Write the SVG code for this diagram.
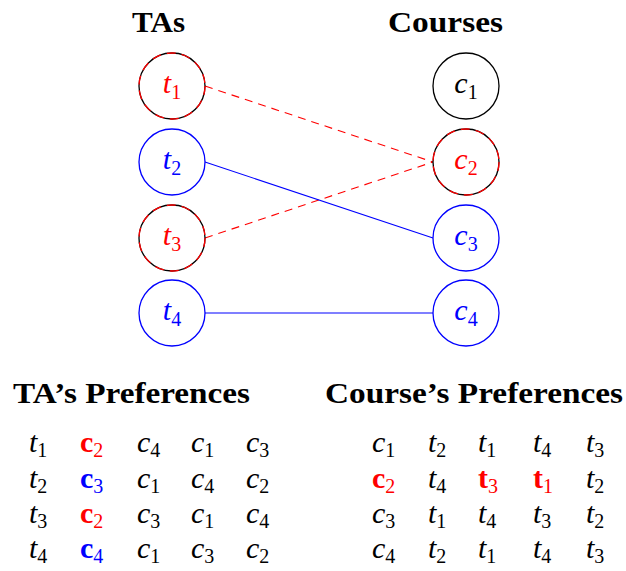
<svg xmlns="http://www.w3.org/2000/svg" width="626" height="571" viewBox="0 0 626 571">
<style>
  .bg { fill: #ffffff; }
  .title { font-family: "Liberation Serif", "DejaVu Serif", serif; font-weight: bold; font-size: 30px; fill: #000; }
  .m { font-family: "Liberation Serif", "DejaVu Serif", serif; font-size: 30px; fill: #000; }
  .m .v { font-style: italic; }
  .m .b { font-weight: bold; font-style: normal; }
  .m .s { font-size: 20px; font-style: normal; }
  .red { fill: #ff0000; }
  .blue { fill: #0000ff; }
  .ring { fill: #ffffff; stroke-width: 1.3; }
  .ring-k { stroke: #000000; }
  .ring-b { stroke: #0000ff; }
  .ring-rd { fill: none; stroke: #ff0000; stroke-width: 1.3; stroke-dasharray: 9 6; }
  .edge-r { stroke: #ff0000; stroke-width: 1.1; stroke-dasharray: 8 6; fill: none; }
  .edge-b { stroke: #0000ff; stroke-width: 1.1; fill: none; }
</style>
<rect class="bg" x="0" y="0" width="626" height="571"/>

<!-- column headings -->
<text class="title" x="132" y="32" textLength="53" lengthAdjust="spacingAndGlyphs">TAs</text>
<text class="title" x="388" y="32" textLength="115" lengthAdjust="spacingAndGlyphs">Courses</text>

<!-- matching edges -->
<g id="connectors">
  <line class="edge-r" x1="205" y1="86" x2="433" y2="162"/>
  <line class="edge-r" x1="205" y1="238" x2="433" y2="162"/>
  <line class="edge-b" x1="205" y1="162" x2="433" y2="238"/>
  <line class="edge-b" x1="205" y1="313" x2="433" y2="313"/>
</g>

<!-- TA nodes -->
<g id="t1">
  <circle class="ring ring-k" cx="172" cy="86" r="33"/>
  <circle class="ring-rd" cx="172" cy="86" r="33"/>
  <text class="m red" x="172" y="93" text-anchor="middle"><tspan class="v">t</tspan><tspan class="s" dy="6">1</tspan></text>
</g>
<g id="t2">
  <circle class="ring ring-b" cx="172" cy="162" r="33"/>
  <text class="m blue" x="172" y="169" text-anchor="middle"><tspan class="v">t</tspan><tspan class="s" dy="6">2</tspan></text>
</g>
<g id="t3">
  <circle class="ring ring-k" cx="172" cy="238" r="33"/>
  <circle class="ring-rd" cx="172" cy="238" r="33"/>
  <text class="m red" x="172" y="245" text-anchor="middle"><tspan class="v">t</tspan><tspan class="s" dy="6">3</tspan></text>
</g>
<g id="t4">
  <circle class="ring ring-b" cx="172" cy="313" r="33"/>
  <text class="m blue" x="172" y="320" text-anchor="middle"><tspan class="v">t</tspan><tspan class="s" dy="6">4</tspan></text>
</g>

<!-- course nodes -->
<g id="c1">
  <circle class="ring ring-k" cx="466" cy="86" r="33"/>
  <text class="m" x="466" y="93" text-anchor="middle"><tspan class="v">c</tspan><tspan class="s" dy="6">1</tspan></text>
</g>
<g id="c2">
  <circle class="ring ring-k" cx="466" cy="162" r="33"/>
  <circle class="ring-rd" cx="466" cy="162" r="33"/>
  <text class="m red" x="466" y="169" text-anchor="middle"><tspan class="v">c</tspan><tspan class="s" dy="6">2</tspan></text>
</g>
<g id="c3">
  <circle class="ring ring-b" cx="466" cy="238" r="33"/>
  <text class="m blue" x="466" y="245" text-anchor="middle"><tspan class="v">c</tspan><tspan class="s" dy="6">3</tspan></text>
</g>
<g id="c4">
  <circle class="ring ring-b" cx="466" cy="313" r="33"/>
  <text class="m blue" x="466" y="320" text-anchor="middle"><tspan class="v">c</tspan><tspan class="s" dy="6">4</tspan></text>
</g>

<!-- preference tables -->
<text class="title" x="13" y="403" textLength="237" lengthAdjust="spacingAndGlyphs">TA’s Preferences</text>
<text class="title" x="325" y="403" textLength="298" lengthAdjust="spacingAndGlyphs">Course’s Preferences</text>

<g id="ta-prefs">
  <!-- row 1 -->
  <text class="m" x="29" y="452"><tspan class="v">t</tspan><tspan class="s" dy="5">1</tspan></text>
  <text class="m red" x="80" y="452"><tspan class="b">c</tspan><tspan class="s" dy="5">2</tspan></text>
  <text class="m" x="137" y="452"><tspan class="v">c</tspan><tspan class="s" dy="5">4</tspan></text>
  <text class="m" x="191" y="452"><tspan class="v">c</tspan><tspan class="s" dy="5">1</tspan></text>
  <text class="m" x="246" y="452"><tspan class="v">c</tspan><tspan class="s" dy="5">3</tspan></text>
  <!-- row 2 -->
  <text class="m" x="29" y="488"><tspan class="v">t</tspan><tspan class="s" dy="5">2</tspan></text>
  <text class="m blue" x="80" y="488"><tspan class="b">c</tspan><tspan class="s" dy="5">3</tspan></text>
  <text class="m" x="137" y="488"><tspan class="v">c</tspan><tspan class="s" dy="5">1</tspan></text>
  <text class="m" x="191" y="488"><tspan class="v">c</tspan><tspan class="s" dy="5">4</tspan></text>
  <text class="m" x="246" y="488"><tspan class="v">c</tspan><tspan class="s" dy="5">2</tspan></text>
  <!-- row 3 -->
  <text class="m" x="29" y="523"><tspan class="v">t</tspan><tspan class="s" dy="5">3</tspan></text>
  <text class="m red" x="80" y="523"><tspan class="b">c</tspan><tspan class="s" dy="5">2</tspan></text>
  <text class="m" x="137" y="523"><tspan class="v">c</tspan><tspan class="s" dy="5">3</tspan></text>
  <text class="m" x="191" y="523"><tspan class="v">c</tspan><tspan class="s" dy="5">1</tspan></text>
  <text class="m" x="246" y="523"><tspan class="v">c</tspan><tspan class="s" dy="5">4</tspan></text>
  <!-- row 4 -->
  <text class="m" x="29" y="558"><tspan class="v">t</tspan><tspan class="s" dy="5">4</tspan></text>
  <text class="m blue" x="80" y="558"><tspan class="b">c</tspan><tspan class="s" dy="5">4</tspan></text>
  <text class="m" x="137" y="558"><tspan class="v">c</tspan><tspan class="s" dy="5">1</tspan></text>
  <text class="m" x="191" y="558"><tspan class="v">c</tspan><tspan class="s" dy="5">3</tspan></text>
  <text class="m" x="246" y="558"><tspan class="v">c</tspan><tspan class="s" dy="5">2</tspan></text>
</g>

<g id="course-prefs">
  <!-- row 1 -->
  <text class="m" x="372" y="452"><tspan class="v">c</tspan><tspan class="s" dy="5">1</tspan></text>
  <text class="m" x="428" y="452"><tspan class="v">t</tspan><tspan class="s" dy="5">2</tspan></text>
  <text class="m" x="478" y="452"><tspan class="v">t</tspan><tspan class="s" dy="5">1</tspan></text>
  <text class="m" x="533" y="452"><tspan class="v">t</tspan><tspan class="s" dy="5">4</tspan></text>
  <text class="m" x="586" y="452"><tspan class="v">t</tspan><tspan class="s" dy="5">3</tspan></text>
  <!-- row 2 -->
  <text class="m red" x="372" y="488"><tspan class="b">c</tspan><tspan class="s" dy="5">2</tspan></text>
  <text class="m" x="428" y="488"><tspan class="v">t</tspan><tspan class="s" dy="5">4</tspan></text>
  <text class="m red" x="478" y="488"><tspan class="b">t</tspan><tspan class="s" dy="5">3</tspan></text>
  <text class="m red" x="533" y="488"><tspan class="b">t</tspan><tspan class="s" dy="5">1</tspan></text>
  <text class="m" x="586" y="488"><tspan class="v">t</tspan><tspan class="s" dy="5">2</tspan></text>
  <!-- row 3 -->
  <text class="m" x="372" y="523"><tspan class="v">c</tspan><tspan class="s" dy="5">3</tspan></text>
  <text class="m" x="428" y="523"><tspan class="v">t</tspan><tspan class="s" dy="5">1</tspan></text>
  <text class="m" x="478" y="523"><tspan class="v">t</tspan><tspan class="s" dy="5">4</tspan></text>
  <text class="m" x="533" y="523"><tspan class="v">t</tspan><tspan class="s" dy="5">3</tspan></text>
  <text class="m" x="586" y="523"><tspan class="v">t</tspan><tspan class="s" dy="5">2</tspan></text>
  <!-- row 4 -->
  <text class="m" x="372" y="558"><tspan class="v">c</tspan><tspan class="s" dy="5">4</tspan></text>
  <text class="m" x="428" y="558"><tspan class="v">t</tspan><tspan class="s" dy="5">2</tspan></text>
  <text class="m" x="478" y="558"><tspan class="v">t</tspan><tspan class="s" dy="5">1</tspan></text>
  <text class="m" x="533" y="558"><tspan class="v">t</tspan><tspan class="s" dy="5">4</tspan></text>
  <text class="m" x="586" y="558"><tspan class="v">t</tspan><tspan class="s" dy="5">3</tspan></text>
</g>
</svg>
